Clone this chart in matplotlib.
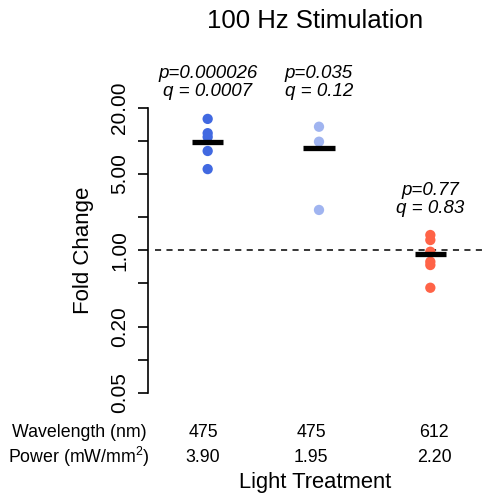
import matplotlib
matplotlib.use("Agg")
import matplotlib.pyplot as plt
import numpy as np

plt.rcParams['font.family'] = ['Liberation Sans', 'DejaVu Sans']
plt.rcParams['mathtext.fontset'] = 'custom'
plt.rcParams['mathtext.rm'] = 'Liberation Sans'
plt.rcParams['mathtext.it'] = 'Liberation Sans:italic'

# ---- data ----
groups = [1, 2, 3]
wavelengths = ["475", "475", "612"]
powers = ["3.90", "1.95", "2.20"]
g1_values = [15.8, 11.7, 10.8, 8.05, 5.5]
g2_values = [13.4, 9.78, 2.33]
g3_values = [1.376, 1.238, 0.968, 0.785, 0.732, 0.454]
group_means = [9.66, 8.51, 0.916]
p_labels = ["p=0.000026", "p=0.035", "p=0.77"]
q_labels = ["q = 0.0007", "q = 0.12", "q = 0.83"]
yticks = [0.05, 0.1, 0.2, 0.5, 1, 2, 5, 10, 20]
ytick_labels = ["0.05", "", "0.20", "", "1.00", "", "5.00", "", "20.00"]

colors = ["#4169E1", "#A0B4F0", "#FF6347"]

W, H = 487, 498
fig = plt.figure(figsize=(W / 100, H / 100), dpi=100)

def px(x, y):
    return x / W, 1 - y / H

# axes: left 152px, right 486px, ylim 0.04..50 -> top 64.1px, bottom 403.3px
ax = fig.add_axes([152 / W, (H - 403.3) / H, 334 / W, 339.2 / H])
ax.set_yscale('log')
ax.set_xlim(0.5, 3.5)
ax.set_ylim(0.04, 50)

all_vals = [g1_values, g2_values, g3_values]
for g, vals, c in zip(groups, all_vals, colors):
    ax.scatter([g] * len(vals), vals, s=55, color=c, edgecolors='none', zorder=3)

for g, m in zip(groups, group_means):
    ax.hlines(m, g - 0.14, g + 0.14, colors='black', linewidth=3.8, zorder=4,
              capstyle='butt')

ax.plot([0.53, 3.47], [1.0, 1.0], color='black', linewidth=1.1,
        linestyle=(0, (4, 3.5)), zorder=2)

# annotations
ann_y = [(41.2, 28.0), (41.2, 28.0), (3.54, 2.41)]
for g, p, q, (y1, y2) in zip(groups, p_labels, q_labels, ann_y):
    ax.text(g, y1, p, ha='center', va='center', fontsize=13.5, style='italic')
    ax.text(g, y2, q, ha='center', va='center', fontsize=13.5, style='italic')

# spines / ticks
for s in ['top', 'right', 'bottom']:
    ax.spines[s].set_visible(False)
ax.spines['left'].set_position(('outward', 3))
ax.spines['left'].set_bounds(0.05, 20)
ax.spines['left'].set_linewidth(1.2)
ax.set_xticks([])
ax.set_yticks(yticks)
ax.set_yticklabels(ytick_labels, rotation=90, va='center', fontsize=15)
ax.yaxis.set_minor_locator(matplotlib.ticker.NullLocator())
ax.tick_params(axis='y', length=7.2, width=1.2, pad=6)
ax.patch.set_visible(False)

# text outside
fig.text(*px(315, 21), "100 Hz Stimulation", ha='center', va='center', fontsize=18.5)
fig.text(*px(83, 250), "Fold Change", ha='center', va='center', rotation=90, fontsize=16)
fig.text(*px(79, 432), "Wavelength (nm)", ha='center', va='center', fontsize=12.8)
fig.text(*px(79, 457), "Power (mW/mm$^2$)", ha='center', va='center', fontsize=12.8)
col_x = [203, 311, 434]
for cx, wl, pw in zip(col_x, wavelengths, powers):
    fig.text(*px(cx, 432), wl, ha='center', va='center', fontsize=12.8)
    fig.text(*px(cx, 457), pw, ha='center', va='center', fontsize=12.8)
fig.text(*px(315, 482), "Light Treatment", ha='center', va='center', fontsize=15.8)

fig.savefig("out.png", dpi=100)
